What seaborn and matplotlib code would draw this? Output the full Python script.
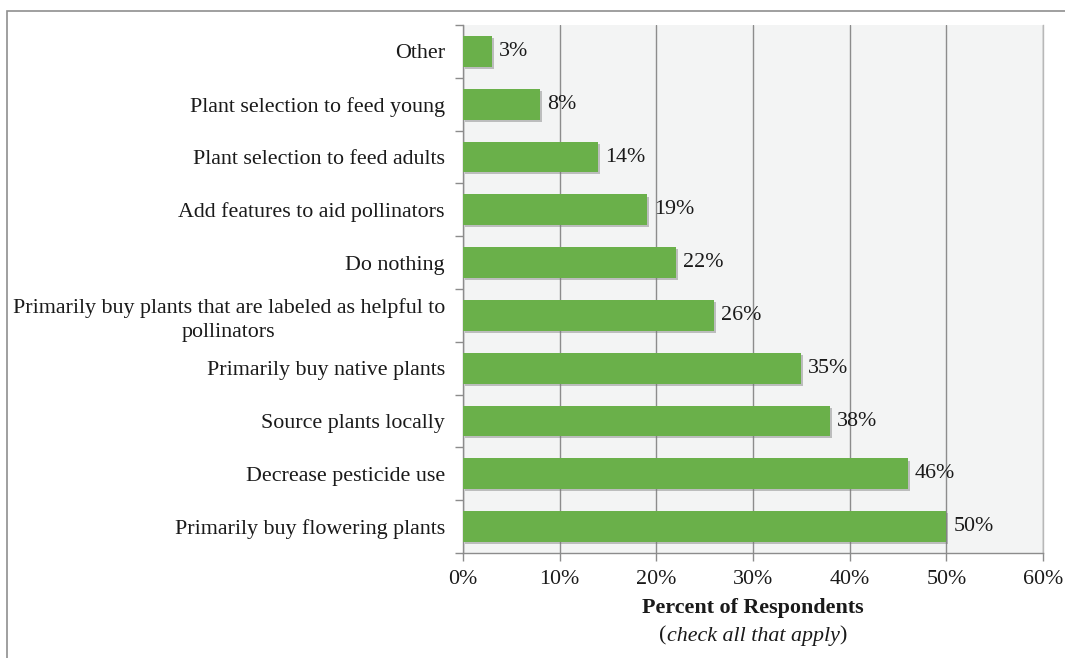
import matplotlib
matplotlib.use("Agg")
import matplotlib.pyplot as plt
import matplotlib.patheffects as pe
from matplotlib.patches import Rectangle
from matplotlib.ticker import FixedLocator
from matplotlib.offsetbox import TextArea, HPacker, AnchoredOffsetbox
import seaborn as sns
import pandas as pd

categories = [
    "Other",
    "Plant selection to feed young",
    "Plant selection to feed adults",
    "Add features to aid pollinators",
    "Do nothing",
    "Primarily buy plants that are labeled as helpful to\npollinators",
    "Primarily buy native plants",
    "Source plants locally",
    "Decrease pesticide use",
    "Primarily buy flowering plants",
]
percent = [3, 8, 14, 19, 22, 26, 35, 38, 46, 50]
x_ticks = [0, 10, 20, 30, 40, 50, 60]

df = pd.DataFrame({"category": categories, "percent": percent})

sns.set_theme(style="white")
plt.rcParams["font.family"] = ["Liberation Serif", "DejaVu Serif"]

FS = 15.8
INK = "#1a1a1a"

fig = plt.figure(figsize=(10.65, 6.58), dpi=100)
ax = fig.add_axes([463 / 1065, 1 - 553 / 658, 580 / 1065, 528 / 658])
ax.set_facecolor("#f3f4f4")

sns.barplot(data=df, y="category", x="percent", orient="h", color="#6ab04a",
            saturation=1, width=0.58, linewidth=0, ax=ax, zorder=3)

for bar in ax.patches:
    bar.set_path_effects([pe.SimplePatchShadow(offset=(1.5, -1.5), alpha=0.45,
                                               shadow_rgbFace="#7a7a7a"),
                          pe.Normal()])

for i, v in enumerate(percent):
    ax.annotate(f"{v}%", xy=(v, i), xytext=(5, 0), textcoords="offset points",
                va="center", ha="left", fontsize=FS, color=INK, zorder=4)

ax.set_xlim(0, 60)
ax.set_ylim(len(categories) - 0.5, -0.5)
ax.set_xticks(x_ticks)
ax.set_xticklabels([f"{t}%" for t in x_ticks], fontsize=FS, color=INK)
ax.xaxis.grid(True, color="#8c8c8c", linewidth=1.0, zorder=0)
ax.set_axisbelow(True)

# category labels with tick marks between categories
ax.set_yticks(range(len(categories)))
ax.set_yticklabels(categories, fontsize=FS, color=INK, multialignment="center",
                   linespacing=1.3)
ax.tick_params(axis="y", which="major", length=0, pad=13)
ax.yaxis.set_minor_locator(FixedLocator([i - 0.5 for i in range(len(categories) + 1)]))
ax.tick_params(axis="y", which="minor", left=True, length=6, color="#8c8c8c", width=1)
ax.tick_params(axis="x", which="major", bottom=True, length=6, color="#8c8c8c",
               width=1, pad=6)

for side in ["left", "bottom"]:
    ax.spines[side].set_color("#8c8c8c")
    ax.spines[side].set_linewidth(1.0)
ax.spines["right"].set_color("#b8b8b8")
ax.spines["right"].set_linewidth(1.0)
ax.spines["top"].set_visible(False)

ax.set_ylabel("")
ax.set_xlabel("")
fig.text(753 / 1065, 1 - 608 / 658, "Percent of Respondents", ha="center",
         va="center", fontsize=FS, fontweight="bold", color=INK)
sub = HPacker(children=[TextArea("(", textprops=dict(fontsize=FS, color=INK)),
                        TextArea("check all that apply",
                                 textprops=dict(fontsize=FS, style="italic", color=INK)),
                        TextArea(")", textprops=dict(fontsize=FS, color=INK))],
              align="baseline", pad=0, sep=0)
box = AnchoredOffsetbox(loc="center", child=sub, frameon=False, pad=0, borderpad=0,
                        bbox_to_anchor=(753 / 1065, 1 - 636 / 658),
                        bbox_transform=fig.transFigure)
fig.add_artist(box)

# outer frame
fig.add_artist(Rectangle((6.5 / 1065, -0.05), 1.2, 1 - 11 / 658 + 0.05,
                         transform=fig.transFigure, fill=False,
                         edgecolor="#8f8f8f", linewidth=1.2))

fig.savefig("out.png", dpi=100, facecolor="white")
